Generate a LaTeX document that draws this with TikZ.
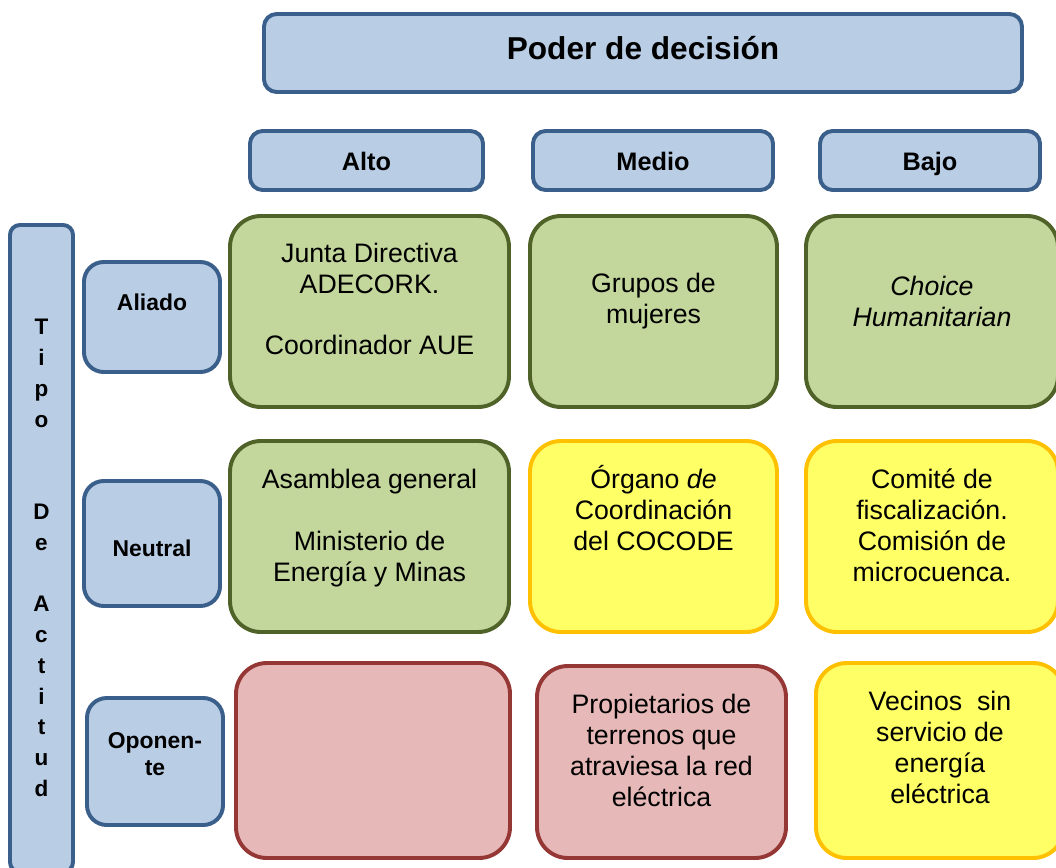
\documentclass[tikz,border=0pt]{standalone}
\usepackage{fontspec}
\setmainfont{Liberation Sans}
\definecolor{azulfondo}{HTML}{B9CDE5}
\definecolor{azulborde}{HTML}{3A5F8B}
\definecolor{verdefondo}{HTML}{C3D69B}
\definecolor{verdeborde}{HTML}{4F6228}
\definecolor{amarillofondo}{HTML}{FFFF66}
\definecolor{amarilloborde}{HTML}{FFC000}
\definecolor{rojofondo}{HTML}{E6B9B8}
\definecolor{rojoborde}{HTML}{953735}
\begin{document}
\begin{tikzpicture}
	\tikzstyle{caja}=[line width=2.8pt,inner sep=0pt]
	\tikzstyle{titulo}=[caja,draw=azulborde,fill=azulfondo,rounded corners=9pt]
	\tikzstyle{columna}=[titulo,minimum height=1.475cm,text height=18pt,text depth=3.4pt,font=\bfseries\fontsize{18}{21}\selectfont]
	\tikzstyle{fila}=[caja,draw=azulborde,fill=azulfondo,rounded corners=14pt]
	\tikzstyle{aliado}=[caja,draw=verdeborde,fill=verdefondo,rounded corners=22pt]
	\tikzstyle{neutro}=[caja,draw=amarilloborde,fill=amarillofondo,rounded corners=22pt]
	\tikzstyle{oponente}=[caja,draw=rojoborde,fill=rojofondo,rounded corners=22pt]
	\tikzstyle{texto}=[align=center,font=\fontsize{19}{22}\selectfont]
	\tikzstyle{negrita}=[align=center,font=\bfseries\fontsize{16.3}{19}\selectfont]
	\def\ColA{9.2375}\def\ColB{16.3375}\def\ColC{23.3}
	\def\FilaA{-7.7875}\def\FilaB{-13.4125}\def\FilaC{-19.0125}
	\def\AnchoA{6.975cm}\def\AnchoB{6.175cm}\def\AnchoC{6.3cm}
	\useasboundingbox (0,0) rectangle (26.4,-21.7);
	% encabezados
	\node[titulo,minimum width=18.95cm,minimum height=1.95cm] (P) at (16.075,-1.325) {};
	\node[font=\bfseries\fontsize{22.5}{26}\selectfont] (Pt) at (16.075,-1.2) {Poder de decisión};
	\node[columna,minimum width=5.825cm] (A) at (9.1625,-4.0125) {Alto};
	\node[columna,minimum width=6cm] (M) at (16.325,-4.0125) {Medio};
	\node[columna,minimum width=5.5cm] (B) at (23.25,-4.0125) {Bajo};
	% tipo de actitud
	\node[titulo,rounded corners=7pt,minimum width=1.575cm,minimum height=16.175cm] (T) at (1.0375,-13.7125) {};
	\node[align=center,font=\bfseries\fontsize{16}{21.9}\selectfont] (Tt) at (1.0375,-13.95)
		{T\\i\\p\\o\\[21.9pt]\\D\\e\\[0pt]\\A\\c\\t\\i\\t\\u\\d};
	\node[fila,minimum width=3.4cm,minimum height=2.75cm] (Al) at (3.8,-7.925) {};
	\node[negrita] (Alt) at (3.8,-7.55) {Aliado};
	\node[fila,minimum width=3.4cm,minimum height=3.125cm] (N) at (3.8,-13.5875) {};
	\node[negrita] (Nt) at (3.8,-13.7) {Neutral};
	\node[fila,minimum width=3.4cm,minimum height=3.175cm] (O) at (3.875,-19.0375) {};
	\node[negrita] (Ot) at (3.875,-18.85) {Oponen-\\te};
	% fila aliado
	\node[aliado,minimum width=\AnchoA,minimum height=4.775cm] (AA) at (\ColA,\FilaA) {};
	\node[texto] (AAt) at (\ColA,-7.475) {Junta Directiva\\ADECORK.\\[22pt]Coordinador AUE};
	\node[aliado,minimum width=\AnchoB,minimum height=4.775cm] (AM) at (\ColB,\FilaA) {};
	\node[texto] (AMt) at (\ColB,-7.5375) {Grupos de\\mujeres};
	\node[aliado,minimum width=\AnchoC,minimum height=4.775cm] (AB) at (\ColC,\FilaA) {};
	\node[texto] (ABt) at (\ColC,-7.5375) {\textit{Choice}\\\textit{Humanitarian}};
	% fila neutral
	\node[aliado,minimum width=\AnchoA,minimum height=4.775cm] (NA) at (\ColA,\FilaB) {};
	\node[texto] (NAt) at (\ColA,-13.2) {Asamblea general\\[22pt]Ministerio de\\Energía y Minas};
	\node[neutro,minimum width=\AnchoB,minimum height=4.775cm] (NM) at (\ColB,\FilaB) {};
	\node[texto] (NMt) at (\ColB,-12.7) {Órgano \textit{de}\\Coordinación\\del COCODE};
	\node[neutro,minimum width=\AnchoC,minimum height=4.775cm] (NB) at (\ColC,\FilaB) {};
	\node[texto] (NBt) at (\ColC,-13.125) {Comité de\\fiscalización.\\Comisión de\\microcuenca.};
	% fila oponente
	\node[oponente,minimum width=6.85cm,minimum height=4.875cm] (OA) at (9.325,\FilaC) {};
	\node[oponente,minimum width=6.225cm,minimum height=4.8cm] (OM) at (16.5375,-19.05) {};
	\node[texto] (OMt) at (16.5375,-18.7625) {Propietarios de\\terrenos que\\atraviesa la red\\eléctrica};
	\node[neutro,minimum width=6.2cm,minimum height=4.875cm] (OB) at (23.5,\FilaC) {};
	\node[texto] (OBt) at (23.5,-18.6875) {Vecinos\ \ sin\\servicio de\\energía\\eléctrica};
\end{tikzpicture}
\end{document}
